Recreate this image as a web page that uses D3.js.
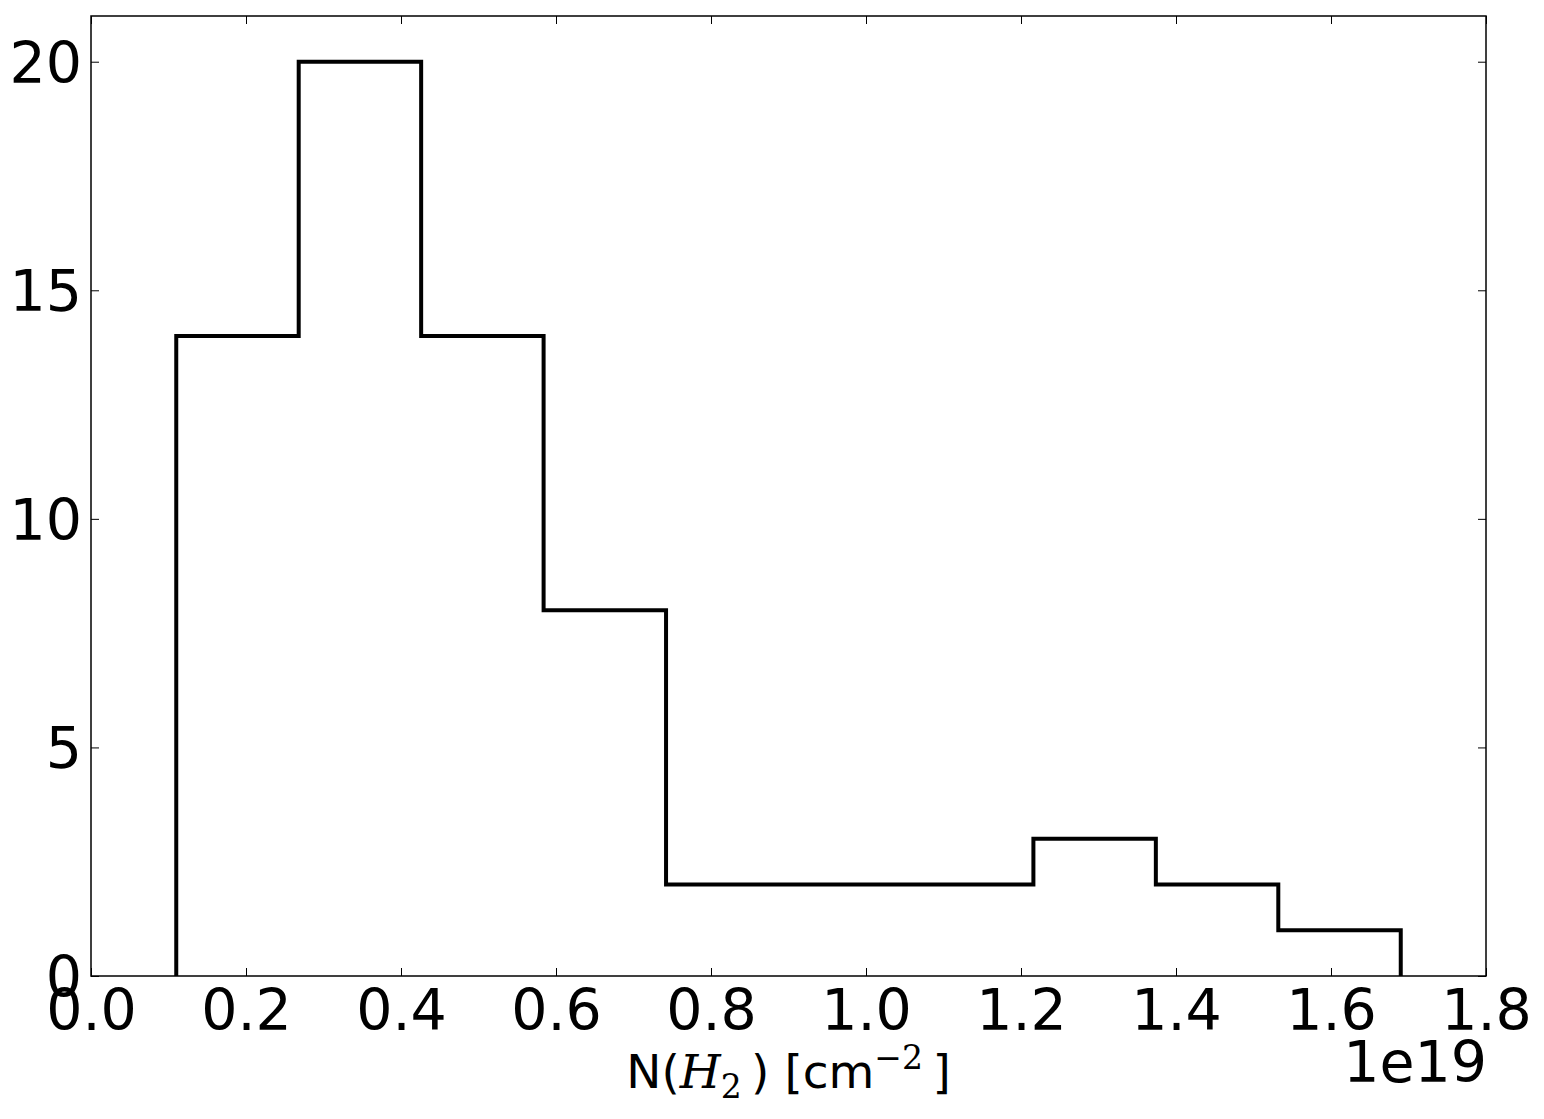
<!DOCTYPE html>
<html>
<head>
<meta charset="utf-8">
<script src="https://cdn.jsdelivr.net/npm/d3@7"></script>
<style>
  body { margin: 0; background: #fff; }
  text { font-family: "DejaVu Sans", sans-serif; }
</style>
</head>
<body>
<div id="chart"></div>
<script>
// bin edges in units of 1e19 cm^-2
const binEdges = [0.110, 0.268, 0.426, 0.584, 0.742, 0.900, 1.058, 1.216, 1.374, 1.532, 1.690];
const binCounts = [14, 20, 14, 8, 2, 2, 2, 3, 2, 1];
const xTicks = [0.0, 0.2, 0.4, 0.6, 0.8, 1.0, 1.2, 1.4, 1.6, 1.8];
const yTicks = [0, 5, 10, 15, 20];

const width = 1544, height = 1119;
const margin = {top: 16, right: 58, bottom: 143, left: 91};
const chartWidth = width - margin.left - margin.right;
const chartHeight = height - margin.top - margin.bottom;

const svg = d3.select("div#chart")
    .append("svg")
    .attr("width", width)
    .attr("height", height);

const chartArea = svg.append("g")
    .attr("transform", "translate(" + margin.left + "," + margin.top + ")");

const xScale = d3.scaleLinear().domain([0, 1.8]).range([0, chartWidth]);
const yScale = d3.scaleLinear().domain([0, 21]).range([chartHeight, 0]);

// step outline of the histogram
const pts = [[binEdges[0], 0]];
binCounts.forEach((c, i) => {
    pts.push([binEdges[i], c]);
    pts.push([binEdges[i + 1], c]);
});
pts.push([binEdges[binEdges.length - 1], 0]);

chartArea.append("path")
    .datum(pts)
    .attr("fill", "none")
    .attr("stroke", "#000")
    .attr("stroke-width", 4)
    .attr("stroke-linejoin", "miter")
    .attr("d", d3.line().x(d => xScale(d[0])).y(d => yScale(d[1])));

// axes with inward ticks on all sides
const tickLen = 8;
const fmtX = d3.format(".1f");

const xBottom = chartArea.append("g")
    .attr("transform", "translate(0," + chartHeight + ")")
    .call(d3.axisBottom(xScale).tickValues(xTicks).tickSize(-tickLen).tickPadding(11).tickFormat(fmtX));
const xTop = chartArea.append("g")
    .call(d3.axisTop(xScale).tickValues(xTicks).tickSize(-tickLen).tickFormat(""));
const yLeft = chartArea.append("g")
    .call(d3.axisLeft(yScale).tickValues(yTicks).tickSize(-tickLen).tickPadding(9).tickFormat(d3.format("d")));
const yRight = chartArea.append("g")
    .attr("transform", "translate(" + chartWidth + ",0)")
    .call(d3.axisRight(yScale).tickValues(yTicks).tickSize(-tickLen).tickFormat(""));

[xBottom, xTop, yLeft, yRight].forEach(g => {
    g.select(".domain").remove();
    g.selectAll(".tick line").attr("stroke", "#000").attr("stroke-width", 1);
    g.selectAll(".tick text")
        .attr("fill", "#000")
        .style("font-size", "57px")
        .style("font-family", "'DejaVu Sans', sans-serif");
});
xBottom.selectAll(".tick text").attr("dy", null).attr("y", 11 + 43);
yLeft.selectAll(".tick text").attr("x", -9).attr("dy", "0.36em");

// frame
chartArea.append("rect")
    .attr("x", 0).attr("y", 0)
    .attr("width", chartWidth).attr("height", chartHeight)
    .attr("fill", "none")
    .attr("stroke", "#000")
    .attr("stroke-width", 1.5);

// offset text
svg.append("text")
    .attr("x", margin.left + chartWidth + 1)
    .attr("y", 1082)
    .attr("text-anchor", "end")
    .style("font-size", "57px")
    .text("1e19");

// x label: N(H_2) [cm^-2]
const lab = svg.append("text")
    .attr("x", margin.left + chartWidth / 2)
    .attr("y", 1088)
    .attr("text-anchor", "middle")
    .style("font-size", "47px");
lab.append("tspan").text("N(");
lab.append("tspan").style("font-family", "'DejaVu Serif', serif").style("font-style", "italic").text("H");
lab.append("tspan").attr("dy", 10).style("font-size", "33px").style("font-family", "'DejaVu Serif', serif").text("2");
lab.append("tspan").attr("dy", -10).text("\u2009) [cm");
lab.append("tspan").attr("dy", -19).style("font-size", "33px").style("font-family", "'DejaVu Serif', serif").text("\u22122");
lab.append("tspan").attr("dy", 19).text("\u2009]");
</script>
</body>
</html>
